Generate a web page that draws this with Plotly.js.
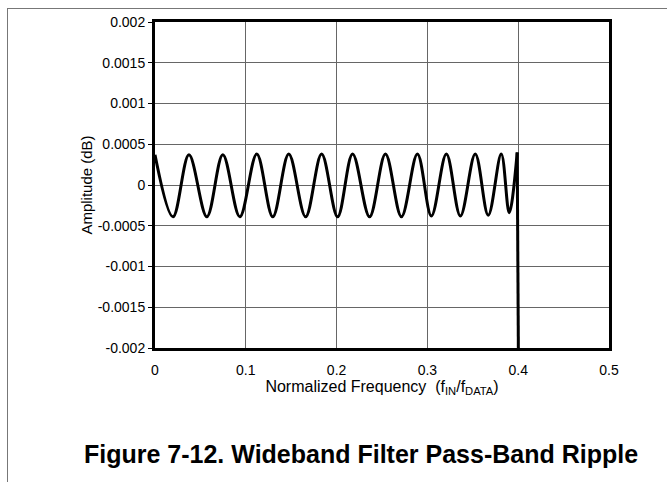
<!DOCTYPE html>
<html>
<head>
<meta charset="utf-8">
<script src="https://cdn.plot.ly/plotly-3.0.1.min.js"></script>
<style>
html,body{margin:0;padding:0;background:#fff;}
#wrap{position:relative;width:667px;height:482px;}
#chart{position:absolute;left:0;top:0;width:667px;height:482px;}
#frame{position:absolute;left:7px;top:8px;width:660px;height:474px;border-top:1px solid #777;border-left:1px solid #777;pointer-events:none;}
</style>
</head>
<body>
<div id="wrap"><div id="chart"></div><div id="frame"></div></div>
<script>
// Ripple extremes (normalized frequency, amplitude dB)
var rippleFreq = [0.0000, 0.0198, 0.0374, 0.0571, 0.0747, 0.0934, 0.1121, 0.1297, 0.1473, 0.1659,
                  0.1835, 0.2011, 0.2176, 0.2363, 0.2538, 0.2714, 0.2890, 0.3044, 0.3209, 0.3363,
                  0.3527, 0.3670, 0.3813, 0.3901, 0.3989];
var rippleAmp  = [0.00037, -0.00039, 0.00037, -0.00039, 0.00037, -0.00039, 0.00038, -0.00039, 0.00038, -0.00039,
                  0.00038, -0.00039, 0.00038, -0.00039, 0.00038, -0.00039, 0.00038, -0.00038, 0.00038, -0.00038,
                  0.00038, -0.00037, 0.00038, -0.00034, 0.00040];
// Stop-band drop at the band edge
var dropFreq = [0.3989, 0.4007];
var dropAmp  = [0.00040, -0.0030];

var xTickVals = [0, 0.1, 0.2, 0.3, 0.4, 0.5];
var xTickText = ['0', '0.1', '0.2', '0.3', '0.4', '0.5'];
var yTickVals = [0.002, 0.0015, 0.001, 0.0005, 0, -0.0005, -0.001, -0.0015, -0.002];
var yTickText = ['0.002', '0.0015', '0.001', '0.0005', '0', '-0.0005', '-0.001', '-0.0015', '-0.002'];

var font = 'Liberation Sans, Arial, Helvetica, sans-serif';

var traces = [
  {x: rippleFreq, y: rippleAmp, mode: 'lines', line: {color: '#000', width: 3, shape: 'spline', smoothing: 1}, hoverinfo: 'skip', showlegend: false},
  {x: dropFreq, y: dropAmp, mode: 'lines', line: {color: '#000', width: 3}, hoverinfo: 'skip', showlegend: false}
];

var layout = {
  width: 667, height: 482,
  margin: {l: 155, r: 58, t: 22, b: 134},
  paper_bgcolor: '#fff', plot_bgcolor: '#fff',
  font: {family: font, size: 14, color: '#000'},
  showlegend: false,
  xaxis: {
    range: [0, 0.5], tickvals: xTickVals, ticktext: xTickText,
    showgrid: true, gridcolor: '#666', gridwidth: 1,
    showline: true, linecolor: '#000', linewidth: 3, mirror: true,
    ticks: '', ticklabelstandoff: 7, zeroline: false, fixedrange: true,
    tickfont: {family: font, size: 14, color: '#000'},
    title: {text: 'Normalized Frequency  (f<sub>IN</sub>/f<sub>DATA</sub>)', font: {family: font, size: 16, color: '#000'}, standoff: 2}
  },
  yaxis: {
    range: [-0.002, 0.002], tickvals: yTickVals, ticktext: yTickText,
    showgrid: true, gridcolor: '#666', gridwidth: 1,
    showline: true, linecolor: '#000', linewidth: 3, mirror: true,
    ticks: 'outside', ticklen: 4, tickcolor: '#000', zeroline: false, fixedrange: true,
    tickfont: {family: font, size: 14, color: '#000'},
    title: {text: 'Amplitude (dB)', font: {family: font, size: 15, color: '#000'}, standoff: 2}
  },
  annotations: [{
    text: '<b>Figure 7-12. Wideband Filter Pass-Band Ripple</b>',
    xref: 'paper', yref: 'paper', x: 0.453, y: -0.325, xanchor: 'center', yanchor: 'middle',
    showarrow: false, font: {family: font, size: 25, color: '#000'}
  }]
};

Plotly.newPlot('chart', traces, layout, {displayModeBar: false, staticPlot: true});
</script>
</body>
</html>
